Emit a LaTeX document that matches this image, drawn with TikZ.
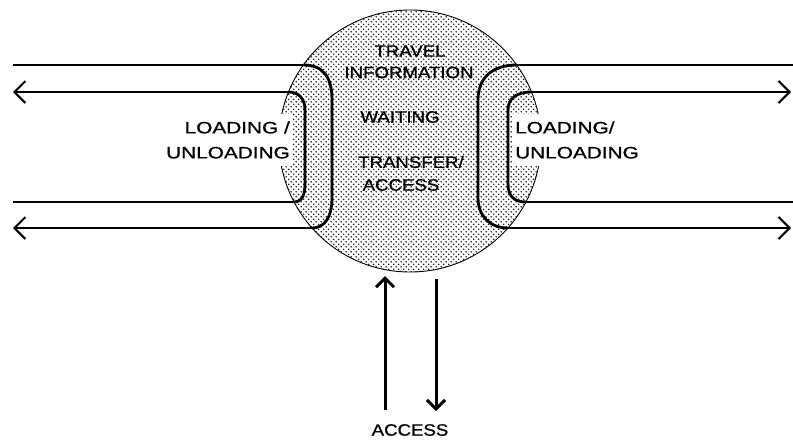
\documentclass[tikz,border=0pt]{standalone}
\usepackage{fontspec}
\setmainfont{Liberation Sans}[FakeStretch=1.13,FakeBold=0.8]
\newfontfamily\widesans{Liberation Sans}[FakeStretch=1.26,FakeBold=0.8]
\usetikzlibrary{patterns,arrows.meta}
\pgfdeclarepatternformonly{stip}{\pgfpointorigin}{\pgfqpoint{5.4pt}{5.4pt}}{\pgfqpoint{5.4pt}{5.4pt}}{%
  \pgfpathcircle{\pgfqpoint{1.35pt}{1.35pt}}{0.85pt}%
  \pgfpathcircle{\pgfqpoint{4.05pt}{4.05pt}}{0.85pt}%
  \pgfusepath{fill}}
\tikzset{
  lbl/.style={font=\fontsize{16.5}{25}\selectfont, inner sep=0pt},
  loadbox/.style={font=\widesans\fontsize{16.5}{25}\selectfont, fill=white, inner xsep=2pt, inner ysep=7pt},
  track/.style={line width=2pt},
  bracket/.style={line width=2.8pt, line join=round},
  tipL/.style={-{Straight Barb[length=11pt,width=22pt]}},
  acc/.style={line width=3pt, -{Straight Barb[length=9pt,width=18pt]}}
}
\begin{document}
\begin{tikzpicture}[x=1pt,y=-1pt]
\useasboundingbox (0,0) rectangle (793,440);
% hub
\node[circle, minimum size=262pt, inner sep=0pt, draw, line width=0.9pt, pattern=stip] (hub) at (410,141) {};
% loading labels (white background)
\node[loadbox, anchor=east, align=right] (loadL) at (292,140) {LOADING /\\UNLOADING};
\node[loadbox, anchor=west, align=left] (loadR) at (513,140) {LOADING/\\UNLOADING};
% coordinates
\coordinate (lo1) at (13,65);
\coordinate (lo2) at (13,228);
\coordinate (li1) at (13,92);
\coordinate (li2) at (13,202);
\coordinate (ro1) at (793,65);
\coordinate (ro2) at (791,228);
\coordinate (ri1) at (791,92);
\coordinate (ri2) at (793,202);
\coordinate (O1L) at (303.3,65);
\coordinate (O2L) at (312.1,228);
\coordinate (I1L) at (288.5,92);
\coordinate (I2L) at (293.8,202);
\coordinate (O1R) at (516.7,65);
\coordinate (O2R) at (507.9,228);
\coordinate (I1R) at (531.5,92);
\coordinate (I2R) at (526.2,202);
% left tracks
\draw[track] (lo1) -- (O1L);
\draw[bracket] (O1L) .. controls (324,65) and (332,78) .. (332,100) -- (332,198) .. controls (332,218) and (324,228) .. (O2L);
\draw[track, tipL] (O2L) -- (lo2);
\draw[track] (li2) -- (I2L);
\draw[bracket] (I2L) .. controls (302,202) and (305,195) .. (305,184) -- (305,110) .. controls (305,99) and (299,92) .. (I1L);
\draw[track, tipL] (I1L) -- (li1);
% right tracks
\draw[track] (ro1) -- (O1R);
\draw[bracket] (O1R) .. controls (492,65) and (478,78) .. (478,100) -- (478,198) .. controls (478,216) and (490,228) .. (O2R);
\draw[track, tipL] (O2R) -- (ro2);
\draw[track] (ri2) -- (I2R);
\draw[bracket] (I2R) .. controls (513,202) and (508,195) .. (508,184) -- (508,110) .. controls (508,99) and (516,92) .. (I1R);
\draw[track, tipL] (I1R) -- (ri1);
% central texts
\node[lbl] (t1) at (410,51) {TRAVEL};
\node[lbl] (t2) at (409,72.5) {INFORMATION};
\node[lbl] (t3) at (400,117) {WAITING};
\node[lbl] (t4) at (411,162) {TRANSFER/};
\node[lbl] (t5) at (401,185) {ACCESS};
% access arrows
\coordinate (aub) at (385,410);
\coordinate (aut) at (385,276);
\coordinate (adt) at (436,279);
\coordinate (adb) at (436,411);
\draw[acc] (aub) -- (aut);
\draw[acc] (adt) -- (adb);
\node[lbl] (access) at (410,430) {ACCESS};
\end{tikzpicture}
\end{document}
